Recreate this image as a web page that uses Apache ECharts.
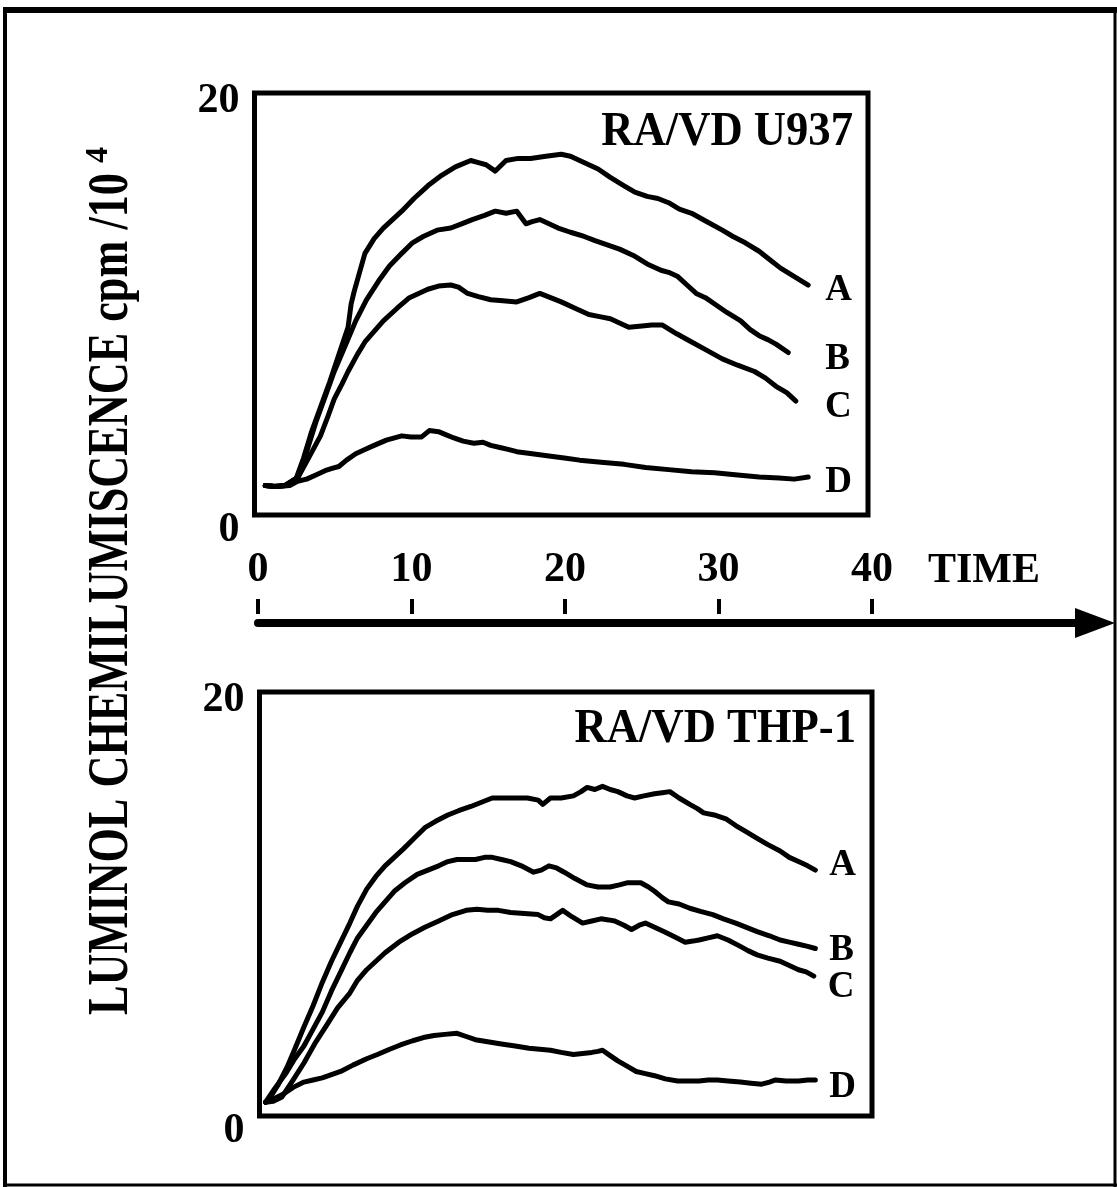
<!DOCTYPE html>
<html><head><meta charset="utf-8">
<script src="https://cdn.jsdelivr.net/npm/echarts@6/dist/echarts.min.js"></script>
<style>html,body{margin:0;padding:0;background:#fff}#c{width:1117px;height:1187px}</style>
</head><body><div id="c"></div>
<script>
// ---------- data ----------
const timeTicks = [0, 10, 20, 30, 40];
const yTickLabels = ['0', '20'];
const curveNames = ['A', 'B', 'C', 'D'];
const panelTitles = ['RA/VD U937', 'RA/VD THP-1'];
const yTitle = 'LUMINOL CHEMILUMISCENCE cpm /10';
const yTitleSup = '4';
const timeName = 'TIME';

const u937_A = [[0.7,1.4],[1.3,1.35],[2.0,1.4],[2.7,1.7],[3.2,2.7],[3.7,3.9],[4.3,5.1],[4.9,6.3],[5.5,7.6],[6.1,8.9],[6.3,10.0],[6.5,10.6],[7.2,12.4],[7.8,13.1],[8.4,13.6],[9.0,14.0],[9.6,14.4],[10.4,15.0],[11.3,15.6],[12.2,16.1],[13.1,16.5],[14.1,16.8],[14.6,16.7],[15.1,16.6],[15.7,16.3],[16.4,16.8],[17.2,16.9],[18.0,16.9],[19.0,17.0],[20.0,17.1],[20.6,17.0],[21.2,16.8],[21.8,16.6],[22.4,16.4],[23.2,16.0],[24.1,15.6],[24.8,15.3],[25.6,15.1],[26.3,15.0],[27.0,14.8],[27.7,14.5],[28.5,14.3],[29.5,13.9],[30.5,13.5],[31.2,13.2],[32.0,12.9],[32.9,12.5],[33.6,12.1],[34.3,11.7],[35.2,11.3],[36.1,10.9]];
const u937_B = [[0.7,1.4],[1.3,1.35],[2.0,1.4],[2.85,1.8],[3.4,3.0],[4.0,4.4],[4.6,5.6],[5.2,6.8],[5.9,8.0],[6.6,9.2],[7.3,10.2],[8.1,11.1],[8.8,11.8],[9.6,12.4],[10.3,12.9],[11.0,13.2],[11.9,13.5],[12.8,13.6],[13.5,13.8],[14.2,14.0],[15.0,14.2],[15.7,14.4],[16.4,14.3],[17.1,14.4],[17.7,13.8],[18.1,13.9],[18.6,14.0],[19.2,13.8],[19.8,13.6],[20.6,13.4],[21.5,13.2],[22.2,13.0],[23.0,12.8],[23.8,12.6],[24.7,12.3],[25.6,11.9],[26.5,11.6],[27.0,11.5],[27.6,11.3],[28.2,10.9],[28.8,10.5],[29.4,10.3],[30.0,10.0],[30.8,9.6],[31.7,9.2],[32.3,8.8],[32.9,8.5],[33.5,8.3],[34.0,8.1],[34.8,7.7]];
const u937_C = [[0.7,1.4],[1.3,1.35],[2.0,1.4],[2.85,1.8],[3.6,2.8],[4.3,3.75],[4.8,4.7],[5.2,5.5],[5.7,6.2],[6.1,6.8],[6.7,7.6],[7.2,8.2],[7.8,8.7],[8.4,9.2],[9.3,9.8],[10.1,10.3],[10.7,10.5],[11.3,10.7],[12.0,10.85],[12.8,10.9],[13.3,10.8],[13.9,10.5],[14.6,10.35],[15.4,10.2],[16.2,10.15],[17.1,10.1],[17.9,10.3],[18.6,10.5],[19.3,10.3],[20.0,10.1],[20.9,9.8],[21.8,9.5],[22.5,9.4],[23.2,9.3],[23.8,9.1],[24.4,8.9],[25.1,8.95],[25.9,9.0],[26.6,9.0],[27.5,8.6],[28.5,8.2],[29.5,7.8],[30.5,7.4],[31.5,7.1],[32.6,6.8],[33.3,6.5],[34.0,6.1],[34.7,5.8],[35.3,5.4]];
const u937_D = [[0.7,1.4],[1.5,1.35],[2.3,1.4],[2.8,1.6],[3.4,1.7],[4.0,1.9],[4.6,2.1],[5.0,2.2],[5.5,2.3],[6.0,2.6],[6.6,2.9],[7.2,3.1],[7.8,3.3],[8.6,3.55],[9.6,3.75],[10.2,3.7],[10.9,3.7],[11.4,4.0],[12.0,3.95],[12.5,3.8],[13.0,3.65],[13.6,3.5],[14.3,3.4],[14.9,3.45],[15.4,3.3],[16.0,3.2],[16.6,3.1],[17.1,3.0],[18.1,2.9],[19.2,2.8],[20.2,2.7],[21.2,2.6],[22.6,2.5],[24.1,2.4],[25.5,2.25],[27.0,2.15],[28.5,2.05],[30.0,2.0],[31.5,1.9],[32.9,1.8],[34.2,1.75],[35.2,1.7],[36.1,1.8]];

const thp1_A = [[0.4,0.65],[0.8,1.0],[1.2,1.45],[1.8,2.3],[2.3,3.15],[2.9,4.2],[3.5,5.2],[4.1,6.3],[4.7,7.3],[5.3,8.2],[5.9,9.1],[6.4,9.9],[7.0,10.7],[7.6,11.3],[8.2,11.8],[8.8,12.2],[9.4,12.6],[10.1,13.1],[10.8,13.6],[11.5,13.9],[12.3,14.2],[13.0,14.4],[13.8,14.6],[14.5,14.8],[15.2,15.0],[16.0,15.0],[16.7,15.0],[17.5,15.0],[18.2,14.9],[18.5,14.7],[19.0,15.0],[19.7,15.0],[20.5,15.1],[21.0,15.3],[21.4,15.5],[21.9,15.4],[22.4,15.55],[22.9,15.4],[23.4,15.3],[24.0,15.1],[24.5,15.0],[25.1,15.1],[25.8,15.2],[26.3,15.25],[26.8,15.3],[27.4,15.0],[28.1,14.7],[28.6,14.5],[29.0,14.3],[29.7,14.2],[30.5,14.0],[31.1,13.7],[31.8,13.4],[32.5,13.1],[33.2,12.8],[34.0,12.5],[34.6,12.2],[35.2,12.0],[35.8,11.8],[36.3,11.6]];
const thp1_B = [[0.4,0.65],[1.0,1.3],[1.76,2.05],[2.3,2.7],[2.9,3.3],[3.5,4.1],[4.1,4.9],[4.7,5.9],[5.3,6.8],[5.9,7.7],[6.4,8.4],[7.0,9.0],[7.6,9.6],[8.2,10.1],[8.8,10.6],[9.5,11.0],[10.3,11.4],[11.0,11.6],[11.7,11.8],[12.3,12.0],[12.9,12.1],[13.5,12.1],[14.1,12.1],[14.7,12.2],[15.2,12.2],[15.8,12.1],[16.4,12.0],[17.1,11.8],[17.9,11.5],[18.4,11.6],[18.9,11.8],[19.4,11.7],[19.9,11.5],[20.6,11.2],[21.4,10.9],[22.1,10.8],[22.9,10.8],[23.5,10.9],[24.0,11.0],[24.5,11.0],[24.9,11.0],[25.4,10.8],[25.8,10.6],[26.3,10.3],[26.7,10.1],[27.4,10.0],[28.1,9.8],[28.8,9.65],[29.6,9.5],[30.3,9.3],[31.1,9.1],[31.8,8.9],[32.5,8.7],[33.3,8.5],[34.0,8.3],[34.6,8.2],[35.2,8.1],[35.8,8.0],[36.3,7.9]];
const thp1_C = [[0.4,0.65],[0.9,0.7],[1.47,0.9],[2.2,1.7],[2.9,2.5],[3.6,3.4],[4.4,4.3],[5.1,5.1],[5.9,5.8],[6.4,6.4],[7.0,6.9],[7.6,7.3],[8.2,7.7],[9.1,8.2],[10.0,8.6],[10.8,8.9],[11.7,9.2],[12.6,9.5],[13.5,9.7],[14.2,9.75],[14.9,9.7],[15.6,9.7],[16.4,9.6],[17.3,9.55],[18.2,9.5],[18.6,9.35],[19.0,9.3],[19.4,9.5],[19.8,9.7],[20.4,9.4],[21.1,9.1],[21.7,9.2],[22.3,9.3],[22.8,9.25],[23.2,9.2],[23.8,9.0],[24.3,8.8],[24.8,9.0],[25.2,9.1],[25.8,8.9],[26.4,8.7],[27.1,8.45],[27.8,8.2],[28.3,8.25],[28.7,8.3],[29.3,8.4],[29.9,8.5],[30.6,8.3],[31.4,8.0],[31.9,7.8],[32.5,7.6],[33.2,7.45],[34.0,7.3],[34.6,7.1],[35.2,6.9],[35.7,6.8],[36.2,6.6]];
const thp1_D = [[0.4,0.65],[0.9,0.8],[1.47,1.0],[2.2,1.35],[2.9,1.6],[3.5,1.7],[4.1,1.8],[4.7,1.95],[5.3,2.1],[6.1,2.4],[7.0,2.7],[7.7,2.9],[8.5,3.15],[9.2,3.35],[10.0,3.55],[10.7,3.7],[11.4,3.8],[12.1,3.85],[12.9,3.9],[13.5,3.75],[14.1,3.6],[14.9,3.5],[15.8,3.4],[16.7,3.3],[17.6,3.2],[18.3,3.15],[19.0,3.1],[19.7,3.0],[20.5,2.9],[21.1,2.95],[21.7,3.0],[22.1,3.05],[22.4,3.1],[22.9,2.85],[23.4,2.6],[24.0,2.35],[24.6,2.1],[25.2,2.0],[25.8,1.9],[26.5,1.75],[27.3,1.65],[28.0,1.65],[28.7,1.65],[29.3,1.7],[29.9,1.7],[30.6,1.65],[31.4,1.6],[32.1,1.55],[32.8,1.5],[33.3,1.6],[33.7,1.7],[34.4,1.65],[35.2,1.65],[35.8,1.7],[36.3,1.7]];

// ---------- styling ----------
const FONT = "'Liberation Serif', 'Times New Roman', serif";
const BLACK = '#000';
const panels = [
  { data: [u937_A, u937_B, u937_C, u937_D], labelOffsets: [[17, 5], [37, 7], [29, 6], [17, 5]] },
  { data: [thp1_A, thp1_B, thp1_C, thp1_D], labelOffsets: [[14, -5], [14, 2], [14, 11], [14, 7]] }
];

const grids = [
  { left: 254.5, top: 93, width: 613.5, height: 422, show: true, borderWidth: 5, borderColor: BLACK, backgroundColor: 'transparent' },
  { left: 259.5, top: 692, width: 612.5, height: 424, show: true, borderWidth: 5, borderColor: BLACK, backgroundColor: 'transparent' },
  { left: 258, top: 613, width: 614, height: 1 },
  { left: 258, top: 622, width: 837, height: 1 }
];

const xAxes = [
  { gridIndex: 0, type: 'value', min: 0, max: 40, show: false },
  { gridIndex: 1, type: 'value', min: 0, max: 40, show: false },
  { gridIndex: 2, type: 'value', min: 0, max: 40, interval: 10, position: 'top',
    axisLine: { show: false }, splitLine: { show: false },
    axisTick: { show: true, inside: false, length: 15, lineStyle: { color: BLACK, width: 4 } },
    axisLabel: { show: true, margin: 22, color: BLACK, fontSize: 42, fontWeight: 'bold', fontFamily: FONT,
      formatter: v => timeTicks.includes(v) ? String(v) : '' },
    name: timeName, nameLocation: 'end', nameGap: 56,
    nameTextStyle: { color: BLACK, fontSize: 42, fontWeight: 'bold', fontFamily: FONT, verticalAlign: 'bottom', padding: [0, 0, 22, 0] } },
  { gridIndex: 3, type: 'value', min: 0, max: 54.5, position: 'top',
    axisLine: { show: true, lineStyle: { color: BLACK, width: 8 }, symbol: ['none', 'triangle'], symbolSize: [30, 40] },
    axisTick: { show: false }, axisLabel: { show: false }, splitLine: { show: false } }
];

function yAxisFor(idx) {
  return { gridIndex: idx, type: 'value', min: 0, max: 20, interval: 20,
    axisLine: { show: false }, axisTick: { show: false }, splitLine: { show: false },
    axisLabel: { show: true, margin: 15, color: BLACK,
      formatter: v => v === 20 ? '{t|' + yTickLabels[1] + '}' : '{b|' + yTickLabels[0] + '}',
      rich: {
        t: { fontSize: 42, fontWeight: 'bold', fontFamily: FONT, color: BLACK, padding: [16, 0, 0, 0] },
        b: { fontSize: 42, fontWeight: 'bold', fontFamily: FONT, color: BLACK, padding: [30, 0, 0, 0] }
      } } };
}
const yAxes = [yAxisFor(0), yAxisFor(1),
  { gridIndex: 2, type: 'value', show: false }, { gridIndex: 3, type: 'value', show: false }];

const series = [];
panels.forEach((p, pi) => {
  p.data.forEach((d, ci) => {
    series.push({
      type: 'line', name: curveNames[ci], xAxisIndex: pi, yAxisIndex: pi, data: d,
      showSymbol: false, smooth: false,
      lineStyle: { color: BLACK, width: 5, join: 'round', cap: 'round' },
      endLabel: { show: true, formatter: curveNames[ci], distance: 0, offset: p.labelOffsets[ci],
        align: 'left', verticalAlign: 'middle',
        color: BLACK, fontSize: 37, fontWeight: 'bold', fontFamily: FONT },
      silent: true
    });
  });
});

const graphic = [
  // outer frame
  { type: 'line', shape: { x1: 3, y1: 10, x2: 1117, y2: 10 }, style: { stroke: BLACK, lineWidth: 6 } },
  { type: 'line', shape: { x1: 5, y1: 8, x2: 5, y2: 1187 }, style: { stroke: BLACK, lineWidth: 4 } },
  { type: 'line', shape: { x1: 1115, y1: 8, x2: 1115, y2: 1187 }, style: { stroke: BLACK, lineWidth: 3 } },
  { type: 'line', shape: { x1: 5, y1: 1185, x2: 1117, y2: 1185 }, style: { stroke: BLACK, lineWidth: 3 } },
  // panel titles
  { type: 'text', x: 853, y: 133, scaleX: 0.93, style: { text: panelTitles[0], fill: BLACK, font: 'bold 48px ' + FONT, textAlign: 'right', textVerticalAlign: 'middle' } },
  { type: 'text', x: 856, y: 730, scaleX: 0.93, style: { text: panelTitles[1], fill: BLACK, font: 'bold 48px ' + FONT, textAlign: 'right', textVerticalAlign: 'middle' } },
  // y-axis title (rotated)
  { type: 'text', x: 113, y: 594, rotation: Math.PI / 2, scaleX: 0.79, style: { text: yTitle, fill: BLACK, font: 'bold 56px ' + FONT, textAlign: 'center', textVerticalAlign: 'middle' } },
  { type: 'text', x: 99, y: 155, rotation: Math.PI / 2, style: { text: yTitleSup, fill: BLACK, font: 'bold 32px ' + FONT, textAlign: 'center', textVerticalAlign: 'middle' } }
];

const chart = echarts.init(document.getElementById('c'), null, { renderer: 'canvas' });
chart.setOption({
  animation: false,
  backgroundColor: '#fff',
  grid: grids, xAxis: xAxes, yAxis: yAxes, series: series, graphic: graphic
});
</script></body></html>
